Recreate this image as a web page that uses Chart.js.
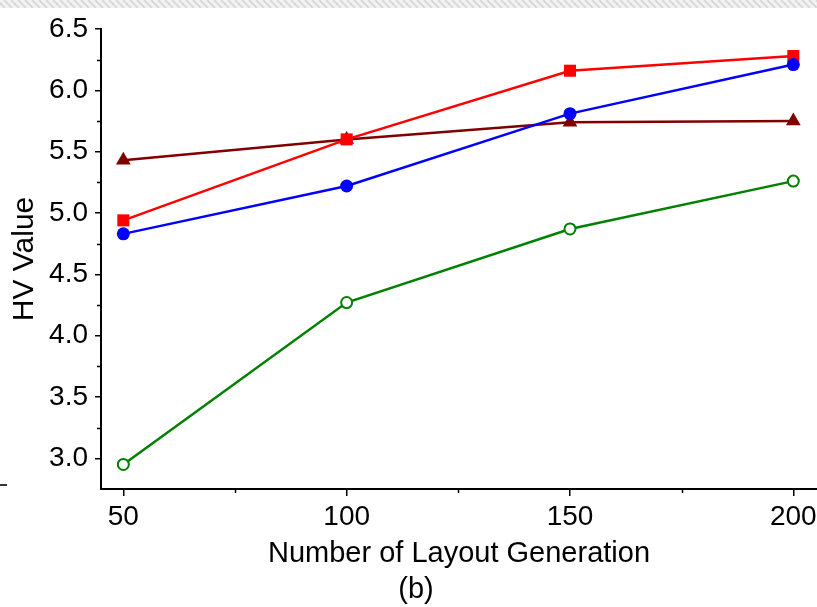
<!DOCTYPE html>
<html lang="en">
<head>
  <meta charset="UTF-8">
  <title>HV Value</title>
  <style>
    html, body { margin: 0; padding: 0; background: #fff; }
    #hvChart { display: block; }
  </style>
  <script src="https://cdn.jsdelivr.net/npm/chart.js"></script>
</head>
<body>
  <canvas id="hvChart" width="817" height="607"></canvas>
  <script>
    // --- data ---
    const generations = [50, 100, 150, 200];
    const blueSeries  = [4.83, 5.22, 5.81, 6.21];
    const redSeries   = [4.94, 5.60, 6.16, 6.28];
    const maroonSeries = [5.43, 5.60, 5.74, 5.75];
    const greenSeries = [2.95, 4.27, 4.87, 5.26];
    const xTickValues = [50, 100, 150, 200];
    const xMinorValues = [75, 125, 175];
    const yTickValues = [3.0, 3.5, 4.0, 4.5, 5.0, 5.5, 6.0, 6.5];
    const yMinorValues = [3.25, 3.75, 4.25, 4.75, 5.25, 5.75, 6.25];

    const FONT = 'Liberation Sans, Arial, sans-serif';

    function toPoints(ys) {
      return generations.map((g, i) => ({ x: g, y: ys[i] }));
    }

    // striped band along the top edge, stray mark on the left, minor ticks and "(b)"
    const decorations = {
      id: 'decorations',
      beforeDraw(chart) {
        const ctx = chart.ctx;
        ctx.save();
        ctx.fillStyle = '#f3f3f3';
        ctx.fillRect(0, 0, chart.width, 8);
        ctx.beginPath();
        ctx.rect(0, 0, chart.width, 8);
        ctx.clip();
        ctx.strokeStyle = '#d9d9d9';
        ctx.lineWidth = 2;
        for (let x = -10; x < chart.width + 10; x += 7) {
          ctx.beginPath();
          ctx.moveTo(x, 0);
          ctx.lineTo(x + 8, 8);
          ctx.stroke();
        }
        ctx.restore();
      },
      afterDraw(chart) {
        const ctx = chart.ctx;
        const xs = chart.scales.x, ys = chart.scales.y;
        const area = chart.chartArea;
        ctx.save();
        ctx.strokeStyle = '#000';
        ctx.lineWidth = 1.5;
        xMinorValues.forEach(v => {
          const px = Math.round(xs.getPixelForValue(v)) + 0.5;
          ctx.beginPath();
          ctx.moveTo(px, area.bottom);
          ctx.lineTo(px, area.bottom + 4);
          ctx.stroke();
        });
        yMinorValues.forEach(v => {
          const py = Math.round(ys.getPixelForValue(v)) + 0.5;
          ctx.beginPath();
          ctx.moveTo(area.left, py);
          ctx.lineTo(area.left - 4, py);
          ctx.stroke();
        });
        // short dash at the far left
        ctx.strokeStyle = '#333';
        ctx.lineWidth = 2;
        ctx.beginPath();
        ctx.moveTo(0, 485);
        ctx.lineTo(7, 485);
        ctx.stroke();

        ctx.fillStyle = '#000';
        ctx.font = '29px ' + FONT;
        ctx.textAlign = 'center';
        ctx.textBaseline = 'middle';
        ctx.fillText('(b)', 416, 590);
        ctx.restore();
      }
    };

    const ctx = document.getElementById('hvChart').getContext('2d');
    new Chart(ctx, {
      type: 'line',
      data: {
        datasets: [
          {
            data: toPoints(blueSeries),
            borderColor: '#0000ff', backgroundColor: '#0000ff',
            borderWidth: 2.5, pointStyle: 'circle', pointRadius: 6.5,
            pointBorderWidth: 0
          },
          {
            data: toPoints(redSeries),
            borderColor: '#ff0000', backgroundColor: '#ff0000',
            borderWidth: 2.5, pointStyle: 'rect', pointRadius: 8.5,
            pointBorderWidth: 0
          },
          {
            data: toPoints(maroonSeries),
            borderColor: '#800000', backgroundColor: '#800000',
            borderWidth: 2.5, pointStyle: 'triangle', pointRadius: 8.5,
            pointBorderWidth: 0
          },
          {
            data: toPoints(greenSeries),
            borderColor: '#008000', backgroundColor: '#ffffff',
            borderWidth: 2.5, pointStyle: 'circle', pointRadius: 5.5,
            pointBorderWidth: 2
          }
        ]
      },
      options: {
        responsive: false,
        animation: false,
        layout: { autoPadding: false, padding: { top: 29, right: 0, left: 0, bottom: 0 } },
        elements: { line: { tension: 0 } },
        plugins: {
          legend: { display: false },
          tooltip: { enabled: false }
        },
        scales: {
          x: {
            type: 'linear',
            min: 45,
            max: 205.3,
            afterBuildTicks: s => { s.ticks = xTickValues.map(v => ({ value: v })); },
            afterFit: s => { s.height = 118; s.paddingLeft = 0; s.paddingRight = 0; },
            grid: { drawOnChartArea: false, drawTicks: true, tickLength: 7, color: '#000', lineWidth: 1.5 },
            border: { color: '#000', width: 2 },
            ticks: { color: '#000', font: { family: FONT, size: 28 }, padding: 4, maxRotation: 0 },
            title: {
              display: true, text: 'Number of Layout Generation', color: '#000',
              font: { family: FONT, size: 29 }, padding: { top: 0, bottom: 36 }
            }
          },
          y: {
            min: 2.75,
            max: 6.5,
            afterBuildTicks: s => { s.ticks = yTickValues.map(v => ({ value: v })); },
            afterFit: s => { s.width = 101; s.paddingTop = 0; s.paddingBottom = 0; },
            grid: { drawOnChartArea: false, drawTicks: true, tickLength: 6, color: '#000', lineWidth: 1.5 },
            border: { color: '#000', width: 2 },
            ticks: {
              color: '#000', font: { family: FONT, size: 28 }, padding: 7,
              callback: v => Number(v).toFixed(1)
            },
            title: {
              display: true, text: 'HV Value', color: '#000',
              font: { family: FONT, size: 30 }, padding: { top: 7, bottom: 0 }
            }
          }
        }
      },
      plugins: [decorations]
    });
  </script>
</body>
</html>
